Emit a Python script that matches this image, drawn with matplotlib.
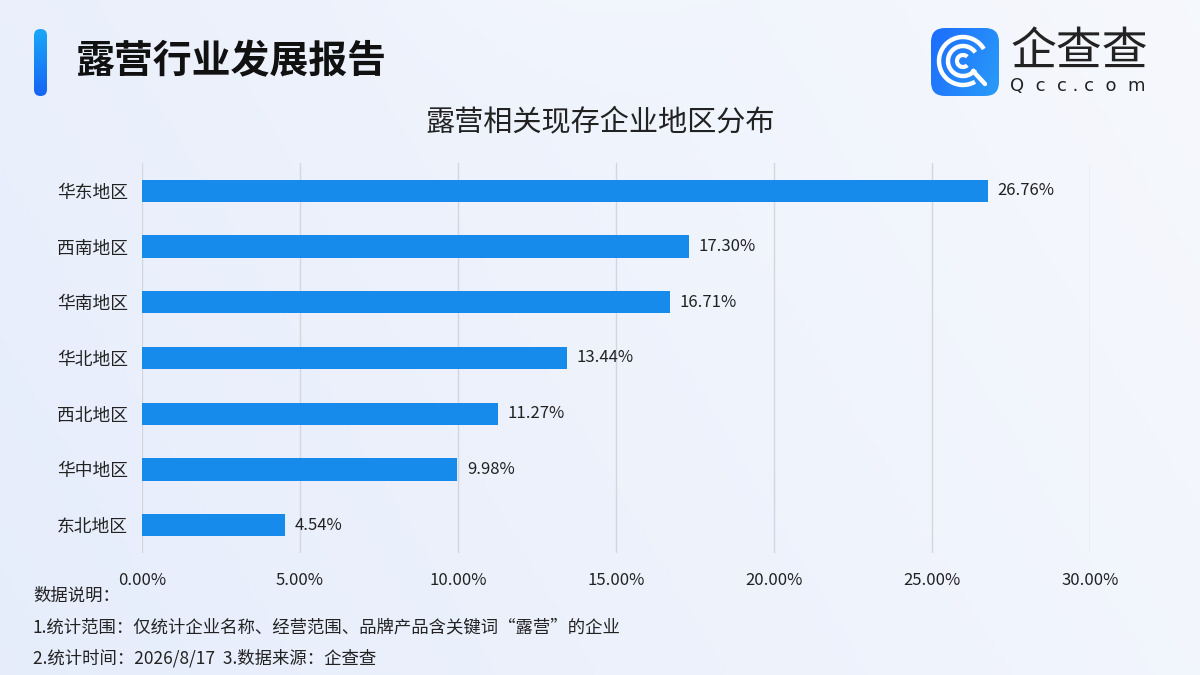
import numpy as np
import matplotlib
matplotlib.use("Agg")
import matplotlib.pyplot as plt
from matplotlib.patches import FancyBboxPatch, Arc
from matplotlib.colors import LinearSegmentedColormap

plt.rcParams['font.family'] = ['Noto Sans CJK SC', 'DejaVu Sans']

# ---- data ----
regions = ["华东地区", "西南地区", "华南地区", "华北地区", "西北地区", "华中地区", "东北地区"]
shares = [26.76, 17.30, 16.71, 13.44, 11.27, 9.98, 4.54]
xticks = [0, 5, 10, 15, 20, 25, 30]
header = "露营行业发展报告"
title = "露营相关现存企业地区分布"
notes = ["数据说明：",
         "1.统计范围：仅统计企业名称、经营范围、品牌产品含关键词“露营”的企业",
         "2.统计时间：2026/8/17  3.数据来源：企查查"]

W, H = 1200, 675
fig = plt.figure(figsize=(W / 100, H / 100), dpi=100)

# ---- background gradient ----
bg = fig.add_axes([0, 0, 1, 1])
bg.set_xlim(0, W); bg.set_ylim(H, 0); bg.axis("off")
xx, yy = np.meshgrid(np.linspace(0, 1, 240), np.linspace(0, 1, 135))
c_left = np.array([0.902, 0.929, 0.984])
c_right = np.array([0.965, 0.973, 0.992])
t = np.clip(0.75 * xx + 0.25 * (1 - yy), 0, 1)[..., None]
img = c_left * (1 - t) + c_right * t
d = np.sqrt(((xx - 0.45) * 1.78) ** 2 + (yy + 0.15) ** 2)
glow = np.clip(1 - d / 0.35, 0, 1)[..., None] * 0.4
img = img * (1 - glow) + np.array([0.975, 0.98, 0.995]) * glow
bg.imshow(img, extent=[0, W, H, 0], aspect="auto", zorder=0)

# header bar
bar_cmap = LinearSegmentedColormap.from_list("hb", ["#1AA6F9", "#1565F4"])
hb = FancyBboxPatch((34, 29), 13, 67, boxstyle="round,pad=0,rounding_size=6.5",
                    transform=bg.transData, facecolor="none", edgecolor="none")
bg.add_patch(hb)
im = bg.imshow(np.linspace(0, 1, 50)[:, None], cmap=bar_cmap, extent=[34, 47, 96, 29],
               aspect="auto", zorder=2)
im.set_clip_path(hb)
bg.text(75, 62, header, fontsize=28, fontweight="heavy", color="#111111",
        va="center", ha="left")

# logo icon
icon = FancyBboxPatch((931, 28), 68, 68, boxstyle="round,pad=0,rounding_size=14",
                      transform=bg.transData, facecolor="none", edgecolor="none")
bg.add_patch(icon)
icon_cmap = LinearSegmentedColormap.from_list("ic", ["#1C6CFF", "#2A9CF8"])
gx = np.linspace(0, 1, 60)
im2 = bg.imshow(np.add.outer(np.linspace(0, 0.3, 60), gx * 0.7), cmap=icon_cmap,
                extent=[931, 999, 96, 28], aspect="auto", zorder=2)
im2.set_clip_path(icon)
cx, cy = 963, 61
bg.add_patch(Arc((cx, cy), 48, 48, theta1=60, theta2=330, color="white", lw=3.2, zorder=3))
bg.add_patch(Arc((cx, cy), 30, 30, theta1=35, theta2=325, color="white", lw=3.2, zorder=3))
bg.add_patch(Arc((cx, cy), 12, 12, theta1=45, theta2=315, color="white", lw=3.0, zorder=3))
bg.plot([cx + 10, cx + 22], [cy + 10, cy + 23], color="white", lw=3.2, zorder=3,
        solid_capstyle="round")
bg.text(1079, 52, "企查查", fontsize=33, color="#222222", ha="center", va="center",
        fontweight="light")
bg.text(1078, 86, "  ".join("Qcc.com").replace("  .  ", " . "), fontsize=13,
        color="#222222", ha="center", va="center", family="DejaVu Sans")

# chart title
bg.text(600, 122, title, fontsize=21, color="#222222", ha="center", va="center")

# footnotes
for i, line in enumerate(notes):
    bg.text(33, 596 + i * 31, line, fontsize=12.5, color="#222222", ha="left", va="center")

# ---- bar chart ----
ax = fig.add_axes([142 / W, 1 - 553 / H, (1090 - 142) / W, (553 - 163) / H])
ax.patch.set_alpha(0)
y = np.arange(len(regions))
ax.barh(y, shares, height=0.4, color="#168BEB", zorder=3)
for yi, v in zip(y, shares):
    ax.text(v + 0.3, yi, f"{v:.2f}%", va="center", ha="left", fontsize=12, color="#222222")
ax.set_xlim(0, 30)
ax.set_ylim(len(regions) - 0.5, -0.5)
ax.set_yticks(y)
ax.set_yticklabels(regions, fontsize=12.8, color="#222222")
ax.set_xticks(xticks)
ax.set_xticklabels([f"{v:.2f}%" for v in xticks], fontsize=12, color="#222222")
ax.grid(axis="x", color="#D3D6DD", lw=1, zorder=0)
for s in ax.spines.values():
    s.set_visible(False)
ax.tick_params(length=0, pad=10)
ax.tick_params(axis="x", pad=14)

fig.savefig("out.png", dpi=100)
